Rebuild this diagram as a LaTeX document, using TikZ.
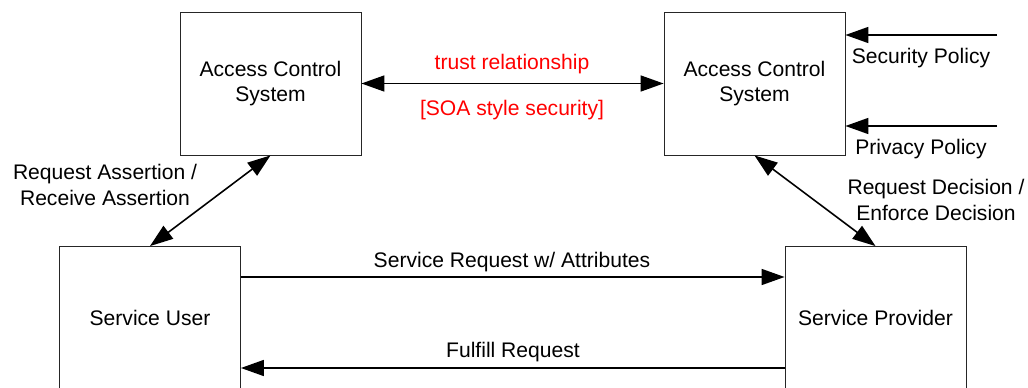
\documentclass[tikz,border=0pt]{standalone}
\usepackage{fontspec}
\setmainfont{Liberation Sans}
\usetikzlibrary{calc,arrows.meta}
\tikzset{
	sysbox/.style={draw=black!85, line width=0.5pt, minimum width=3.62cm, minimum height=2.86cm, align=center, inner sep=0pt},
	flow/.style={line width=0.9pt, -{Triangle[length=0.46cm, width=0.32cm]}},
	twoflow/.style={line width=0.9pt, {Triangle[length=0.46cm, width=0.32cm]}-{Triangle[length=0.46cm, width=0.32cm]}},
	lbl/.style={inner sep=0pt, align=center, font=\fontsize{12}{14.7}\selectfont}
}

\begin{document}
\begin{tikzpicture}[x=0.02cm, y=-0.02cm, font=\fontsize{12}{14.7}\selectfont]
			%%%%% START %%%%%
			\useasboundingbox (0, 0) rectangle (1028, 388);
			\clip (0, 0) rectangle (1028, 388);
			
			\node[sysbox] (acsleft) at (270.5, 83.5) {Access Control\\System};
			\node[sysbox] (acsright) at (754.5, 83.5) {Access Control\\System};
			\node[sysbox] (user) at (150, 318) {Service User};
			\node[sysbox] (provider) at (875.5, 318) {Service Provider};
			
			\draw[twoflow] (acsleft.east) -- (acsright.west);
			\node[lbl, red] (trust) at (512, 64) {trust relationship};
			\node[lbl, red] (soa) at (512, 110) {[SOA style security]};
			
			\coordinate (secsrc) at (997, 35);
			\coordinate (privsrc) at (997, 126);
			\draw[flow] (secsrc) -- (acsright.east |- secsrc);
			\draw[flow] (privsrc) -- (acsright.east |- privsrc);
			\node[lbl] (secpol) at (921, 58) {Security Policy};
			\node[lbl] (privpol) at (921, 149) {Privacy Policy};
			
			\draw[twoflow] (acsleft.south) -- (user.north);
			\node[lbl] (assert) at (105, 185) {Request Assertion /\\Receive Assertion};
			
			\draw[twoflow] (acsright.south) -- (provider.north);
			\node[lbl] (decide) at (936, 200) {Request Decision /\\Enforce Decision};
			
			\draw[flow] ($(user.east)+(0, -41)$) -- ($(provider.west)+(0, -41)$);
			\node[lbl] (svcreq) at (512, 262) {Service Request w/ Attributes};
			
			\draw[flow] ($(provider.west)+(0, 50)$) -- ($(user.east)+(0, 50)$);
			\node[lbl] (fulfill) at (513, 352) {Fulfill Request};
			
			%%%%% END %%%%%
\end{tikzpicture}
\end{document}
